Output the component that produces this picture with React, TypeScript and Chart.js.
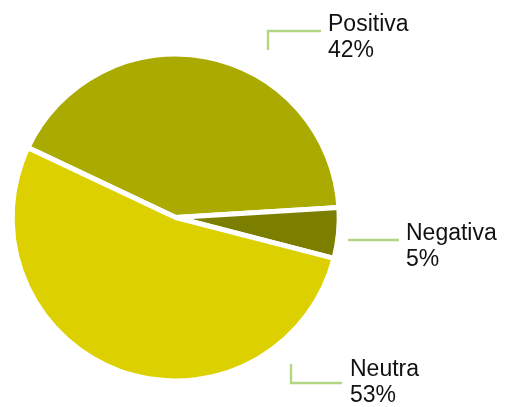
import React, { useEffect, useRef } from "react";
import { Chart, registerables } from "chart.js";

Chart.register(...registerables);

const categories = ["Positiva", "Negativa", "Neutra"];
const values = [42, 5, 53];
const percentLabels = ["42%", "5%", "53%"];
const sliceColors = ["#AAAA00", "#7C7E00", "#DCD000"];

// callout layout (leader line + text anchor) per category
const callouts = [
  { vx: 268, vy0: 50, hy: 31, hx1: 321, tx: 328, ty: 31 },
  { vx: null, vy0: null, hy: 240, hx0: 348, hx1: 399, tx: 406, ty: 240 },
  { vx: 291, vy0: 364, hy: 383, hx1: 342, tx: 350, ty: 376 },
];

const calloutPlugin = {
  id: "callouts",
  afterDraw(chart: any) {
    const ctx = chart.ctx;
    ctx.save();
    ctx.strokeStyle = "#B2D686";
    ctx.lineWidth = 2.4;
    ctx.lineCap = "butt";
    callouts.forEach((c: any, i: number) => {
      ctx.beginPath();
      if (c.vx !== null) {
        ctx.moveTo(c.vx, c.vy0);
        ctx.lineTo(c.vx, c.hy);
        ctx.lineTo(c.hx1, c.hy);
      } else {
        ctx.moveTo(c.hx0, c.hy);
        ctx.lineTo(c.hx1, c.hy);
      }
      ctx.stroke();
      ctx.fillStyle = "#111111";
      ctx.font = '23px "Liberation Sans", Arial, Helvetica, sans-serif';
      ctx.textAlign = "left";
      ctx.textBaseline = "alphabetic";
      ctx.fillText(categories[i], c.tx, c.ty);
      ctx.fillText(percentLabels[i], c.tx, c.ty + 26);
    });
    ctx.restore();
  },
};

export default function App() {
  const ref = useRef<HTMLCanvasElement | null>(null);
  useEffect(() => {
    if (!ref.current) return;
    const chart = new Chart(ref.current, {
      type: "pie",
      data: {
        labels: categories,
        datasets: [
          {
            data: values,
            backgroundColor: sliceColors,
            borderColor: "#ffffff",
            borderWidth: 5,
          },
        ],
      },
      options: {
        responsive: false,
        animation: false,
        rotation: 295.3,
        layout: {
          padding: { left: 9.7, right: 165.3, top: 51.5, bottom: 23.5 },
        },
        plugins: {
          legend: { display: false },
          tooltip: { enabled: false },
        },
      },
      plugins: [calloutPlugin],
    });
    return () => chart.destroy();
  }, []);
  return (
    <div style={{ position: "fixed", left: 0, top: 0, width: 507, height: 407, background: "#fff" }}>
      <canvas ref={ref} width={507} height={407} style={{ width: 507, height: 407 }} />
    </div>
  );
}
